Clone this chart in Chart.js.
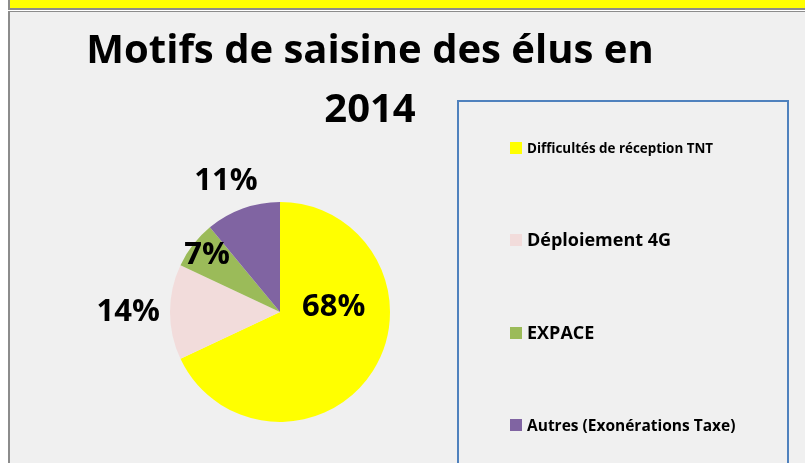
<!DOCTYPE html>
<html>
<head>
<meta charset="utf-8">
<script src="https://cdn.jsdelivr.net/npm/chart.js@4.4.1/dist/chart.umd.min.js"></script>
<style>
    body { margin: 0; background: #fff; overflow: hidden; }
    #band { position: absolute; left: 8px; top: 0; width: 795px; height: 8px; background: #ffff00;
            border-left: 2px solid #8c8c8c; border-bottom: 2px solid #8c8c8c; }
    #panel { position: absolute; left: 8px; top: 11px; width: 795px; height: 452px; background: #f0f0f0;
             border-left: 2px solid #8c8c8c; border-top: 1px solid #8c8c8c; }
    #chart { position: absolute; left: 0; top: 0; }
</style>
</head>
<body>
<div id="band"></div>
<div id="panel"></div>
<canvas id="chart" width="805" height="463"></canvas>
<script>
// Données
const categories = ['Difficultés de réception TNT', 'Déploiement 4G', 'EXPACE', 'Autres (Exonérations Taxe)'];
const shares = [68, 14, 7, 11];
const sliceColors = ['#ffff00', '#f2dcdb', '#9bbb59', '#8064a2'];
const titleLines = ['Motifs de saisine des élus en', '2014'];

// placement des étiquettes (fraction du rayon, décalage en degrés)
const labelRadius = [0.49, 1.38, 0.84, 1.29];
const labelTurn = [-38, 0, 0, -2.6];
// taille de police de chaque entrée de légende
const legendSizes = [13.4, 18, 18, 15.5];

const FONT = '"Open Sans", "DejaVu Sans", sans-serif';

// Titre sur deux lignes
const titlePlugin = {
    id: 'bigTitle',
    afterDraw(chart) {
        const ctx = chart.ctx;
        ctx.save();
        ctx.fillStyle = '#000';
        ctx.font = 'bold 40px ' + FONT;
        ctx.textAlign = 'center';
        ctx.textBaseline = 'alphabetic';
        titleLines.forEach((line, i) => ctx.fillText(line, 370, 63 + i * 59));
        ctx.restore();
    }
};

// Pourcentages sur les parts
const percentPlugin = {
    id: 'percentLabels',
    afterDatasetsDraw(chart) {
        const ctx = chart.ctx;
        const meta = chart.getDatasetMeta(0);
        ctx.save();
        ctx.fillStyle = '#000';
        ctx.font = 'bold 31px ' + FONT;
        ctx.textAlign = 'center';
        ctx.textBaseline = 'middle';
        meta.data.forEach((arc, i) => {
            const p = arc.getProps(['x', 'y', 'startAngle', 'endAngle', 'outerRadius'], true);
            const a = (p.startAngle + p.endAngle) / 2 + labelTurn[i] * Math.PI / 180;
            const r = p.outerRadius * labelRadius[i];
            ctx.fillText(chart.data.datasets[0].data[i] + '%', p.x + Math.cos(a) * r, p.y + Math.sin(a) * r);
        });
        ctx.restore();
    }
};

// Légende encadrée à droite
const legendPlugin = {
    id: 'boxLegend',
    afterDraw(chart) {
        const ctx = chart.ctx;
        const ds = chart.data.datasets[0];
        ctx.save();
        ctx.strokeStyle = '#4f81bd';
        ctx.lineWidth = 2;
        ctx.strokeRect(458, 101, 330, 380);
        const rows = [148, 240, 333, 425];
        chart.data.labels.forEach((label, i) => {
            ctx.fillStyle = ds.backgroundColor[i];
            ctx.fillRect(510, rows[i] - 6, 12, 12);
            ctx.fillStyle = '#000';
            ctx.font = 'bold ' + legendSizes[i] + 'px ' + FONT;
            ctx.textBaseline = 'alphabetic';
            ctx.fillText(label, 527, rows[i] + legendSizes[i] * 0.357);
        });
        ctx.restore();
    }
};

const ctx = document.getElementById('chart').getContext('2d');
new Chart(ctx, {
    type: 'pie',
    data: {
        labels: categories,
        datasets: [{
            data: shares,
            backgroundColor: sliceColors,
            borderWidth: 0
        }]
    },
    options: {
        responsive: false,
        animation: false,
        devicePixelRatio: 1,
        layout: {
            padding: { left: 170, right: 415, top: 202, bottom: 41 }
        },
        plugins: {
            legend: { display: false },
            title: { display: false },
            tooltip: { enabled: false }
        }
    },
    plugins: [percentPlugin, titlePlugin, legendPlugin]
});
</script>
</body>
</html>
